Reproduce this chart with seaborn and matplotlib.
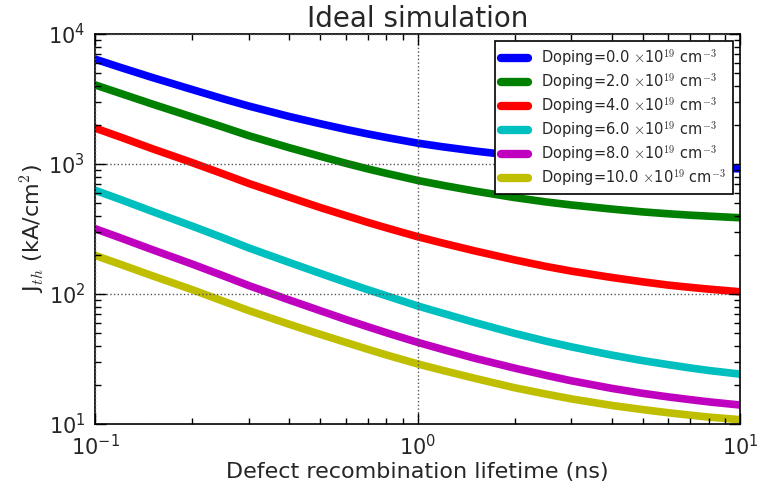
import numpy as np
import pandas as pd
import matplotlib
matplotlib.use("Agg")
import matplotlib.pyplot as plt
import seaborn as sns
from matplotlib.ticker import LogLocator, NullFormatter

# ---- data ----
lifetime_ns = [0.1, 0.12, 0.15, 0.2, 0.25, 0.3, 0.4, 0.5, 0.6, 0.7, 0.8, 1.0,
               1.2, 1.5, 2.0, 2.5, 3.0, 4.0, 5.0, 6.0, 7.0, 8.0, 10.0]
doping_levels = ["0.0", "2.0", "4.0", "6.0", "8.0", "10.0"]
jth_doping_0 = [6410, 5530, 4640, 3740, 3170, 2790, 2320, 2040, 1845, 1705, 1600, 1448,
                1355, 1260, 1160, 1100, 1060, 1010, 980, 960, 945, 933, 918]
jth_doping_2 = [4060, 3490, 2900, 2300, 1920, 1650, 1335, 1145, 1012, 918, 848, 748,
                685, 620, 552, 511, 484, 450, 428, 414, 404, 397, 386]
jth_doping_4 = [1890, 1610, 1315, 1025, 838, 708, 556, 462, 401, 356, 323, 276,
                246, 215, 183, 163, 150, 134, 124, 117, 112.5, 109, 104]
jth_doping_6 = [628, 533, 433, 333, 270, 226, 175, 144, 123, 108, 97, 81,
                71, 60.5, 49.8, 43.4, 39.2, 33.9, 30.7, 28.6, 27.0, 25.8, 24.2]
jth_doping_8 = [318, 270, 220, 170, 138, 116, 90, 74.3, 63.6, 56.1, 50.4, 42.5,
                37.4, 32.1, 26.9, 23.7, 21.5, 18.8, 17.2, 16.15, 15.4, 14.8, 14.0]
jth_doping_10 = [198, 169, 138.5, 108, 88, 74.5, 58.5, 48.9, 42.4, 37.6, 34.0, 29.0,
                 25.8, 22.5, 19.0, 17.0, 15.6, 13.9, 12.9, 12.2, 11.7, 11.3, 10.8]
series = [jth_doping_0, jth_doping_2, jth_doping_4, jth_doping_6, jth_doping_8, jth_doping_10]
line_colors = ["#0000ff", "#008000", "#ff0000", "#00bfbf", "#bf00bf", "#bfbf00"]

labels = [f"Doping={d} $\\times$10$^{{19}}$ cm$^{{-3}}$" for d in doping_levels]
rows = []
for lab, vals in zip(labels, series):
    for x, y in zip(lifetime_ns, vals):
        rows.append({"lifetime": x, "jth": y, "doping": lab})
df = pd.DataFrame(rows)

sns.set_style("white")
plt.rcParams["font.family"] = ["DejaVu Sans"]
plt.rcParams["mathtext.fontset"] = "cm"

fig = plt.figure(figsize=(7.65, 4.84), dpi=100)
ax = fig.add_axes([95 / 765, 1 - 424 / 484, 645 / 765, 390 / 484])

sns.lineplot(data=df, x="lifetime", y="jth", hue="doping", hue_order=labels,
             palette=line_colors, linewidth=5.5, ax=ax, legend=True)

ax.set_xscale("log")
ax.set_yscale("log")
ax.set_xlim(0.1, 10)
ax.set_ylim(10, 1e4)

ax.grid(True, which="major", color="#555555", linestyle=":", linewidth=1)
ax.set_axisbelow(False)

ax.xaxis.set_major_locator(LogLocator(base=10, numticks=10))
ax.yaxis.set_major_locator(LogLocator(base=10, numticks=10))
ax.xaxis.set_minor_locator(LogLocator(base=10, subs=np.arange(2, 10), numticks=20))
ax.yaxis.set_minor_locator(LogLocator(base=10, subs=np.arange(2, 10), numticks=20))
ax.xaxis.set_minor_formatter(NullFormatter())
ax.yaxis.set_minor_formatter(NullFormatter())

ax.tick_params(which="both", direction="in", top=True, right=True, bottom=True, left=True,
               color="black")
ax.tick_params(which="major", length=8, width=1, labelsize=15, pad=7)
ax.tick_params(which="minor", length=4, width=1)

for sp in ax.spines.values():
    sp.set_color("black")
    sp.set_linewidth(1.2)

ax.set_title("Ideal simulation", fontsize=20, pad=5)
ax.set_xlabel("Defect recombination lifetime (ns)", fontsize=16, labelpad=2)
ax.set_ylabel("J$_{th}$ (kA/cm$^2$)", fontsize=16, labelpad=1)

handles, labs = ax.get_legend_handles_labels()
leg = ax.legend(handles, labs, loc="upper right", fontsize=10.5, frameon=True,
                fancybox=False, framealpha=1, edgecolor="black", handlelength=1.9,
                borderaxespad=0.5, labelspacing=0.22, borderpad=0.4, handletextpad=0.9)
leg.get_frame().set_linewidth(1.2)
for ln in leg.get_lines():
    ln.set_linewidth(6)

fig.savefig("out.png", dpi=100)
